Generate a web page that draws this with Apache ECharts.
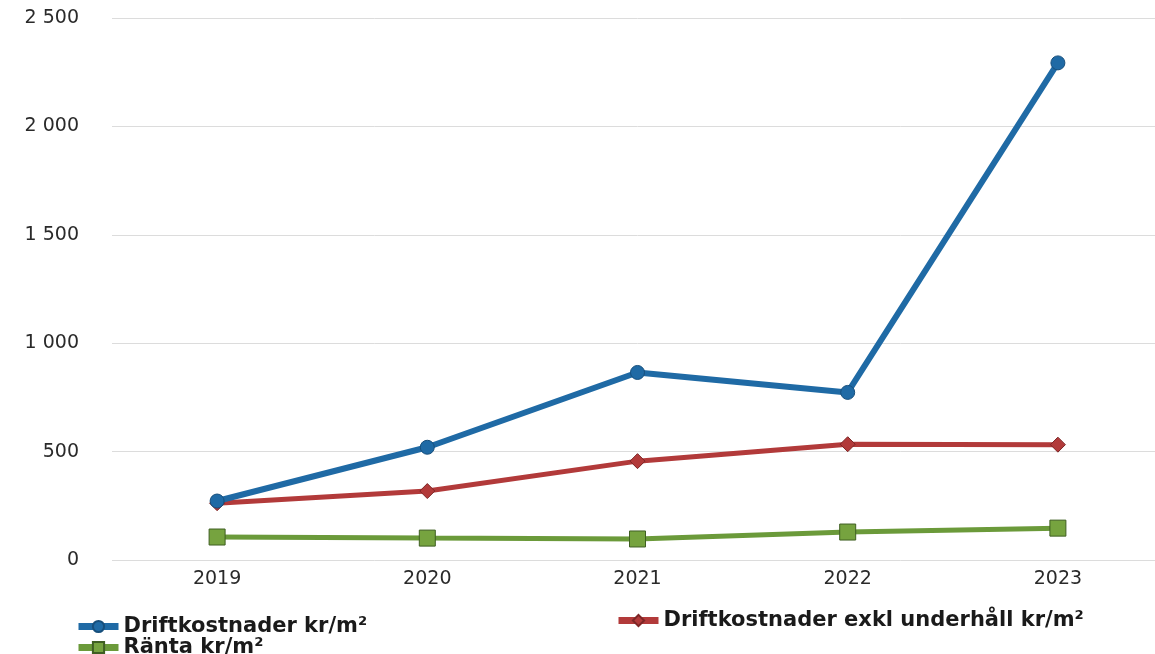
<!DOCTYPE html>
<html>
<head>
<meta charset="utf-8">
<script src="https://cdn.jsdelivr.net/npm/echarts@6/dist/echarts.min.js"></script>
<style>
  html, body { margin: 0; padding: 0; background: #fff; overflow: hidden; }
  #chart { width: 1163px; height: 654px; }
</style>
</head>
<body>
<div id="chart"></div>
<script>
// years on the x axis
var years = ['2019', '2020', '2021', '2022', '2023'];
// values, kr/m²
var drift = [272, 520, 865, 773, 2293];
var driftExkl = [262, 318, 456, 534, 532];
var ranta = [106, 101, 97, 129, 147];

var nameDrift = 'Driftkostnader kr/m²';
var nameExkl = 'Driftkostnader exkl underhåll kr/m²';
var nameRanta = 'Ränta kr/m²';

var myChart = echarts.init(document.getElementById('chart'));

function spaced(v) {
	return String(v).replace(/\B(?=(\d{3})+(?!\d))/g, ' ');
}

function legendAt(name, left, top) {
	return {
		data: [name],
		left: left,
		top: top,
		itemWidth: 40,
		itemHeight: 14,
		itemGap: 6,
		lineStyle: { width: 7 },
		textStyle: {
			fontFamily: 'DejaVu Sans',
			fontWeight: 'bold',
			fontSize: 21,
			color: '#1a1a1a'
		}
	};
}

var option = {
	backgroundColor: '#fff',
	animation: false,
	grid: {
		left: 112,
		right: 0,
		top: 18,
		bottom: 94
	},
	legend: [
		legendAt(nameDrift, 70, 611),
		legendAt(nameExkl, 610, 605),
		legendAt(nameRanta, 70, 632)
	],
	xAxis: {
		type: 'category',
		data: years,
		axisLine: { show: false },
		axisTick: { show: false },
		axisLabel: {
			fontFamily: 'DejaVu Sans',
			fontSize: 19,
			color: '#2a2a2a',
			margin: 10
		}
	},
	yAxis: {
		type: 'value',
		min: 0,
		max: 2500,
		interval: 500,
		axisLabel: {
			fontFamily: 'DejaVu Sans',
			fontSize: 19,
			color: '#2a2a2a',
			margin: 33,
			formatter: spaced
		},
		splitLine: {
			lineStyle: { color: '#dcdcdc', width: 1 }
		}
	},
	series: [
		{
			name: nameDrift,
			type: 'line',
			data: drift,
			symbol: 'circle',
			symbolSize: 14,
			lineStyle: { color: '#1f6aa5', width: 6 },
			itemStyle: { color: '#1f6aa5', borderColor: '#174f7c', borderWidth: 1 },
			z: 3
		},
		{
			name: nameExkl,
			type: 'line',
			data: driftExkl,
			symbol: 'diamond',
			symbolSize: 15,
			lineStyle: { color: '#b23a3a', width: 5 },
			itemStyle: { color: '#b23a3a', borderColor: '#7d2626', borderWidth: 1 },
			z: 2
		},
		{
			name: nameRanta,
			type: 'line',
			data: ranta,
			symbol: 'rect',
			symbolSize: 16,
			lineStyle: { color: '#6b9a3a', width: 5 },
			itemStyle: { color: '#76a33f', borderColor: '#3f5f22', borderWidth: 1 },
			z: 1
		}
	]
};

myChart.setOption(option);
</script>
</body>
</html>
